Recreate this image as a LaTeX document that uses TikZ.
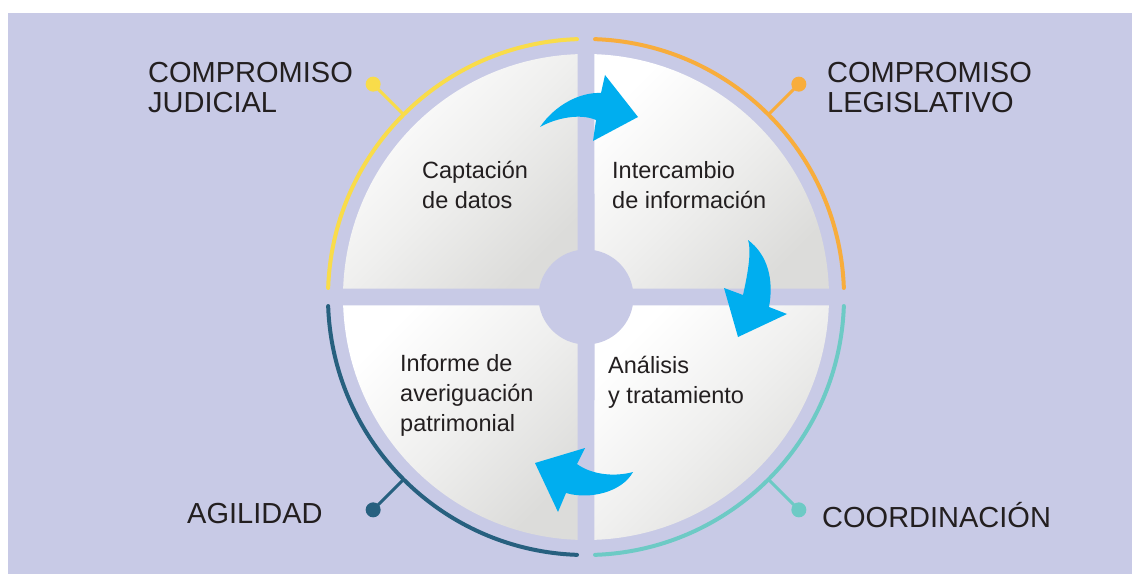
\documentclass[tikz,border=0pt]{standalone}
\usepackage{fontspec}
\setmainfont{Liberation Sans}
\definecolor{bg}{HTML}{C8CAE6}
\definecolor{cyellow}{HTML}{F9DC4A}
\definecolor{corange}{HTML}{F8AD3C}
\definecolor{cteal}{HTML}{6DCAC5}
\definecolor{cnavy}{HTML}{27607F}
\definecolor{cblue}{HTML}{00AEEF}
\definecolor{qgray}{HTML}{DCDCDA}
\definecolor{ink}{HTML}{231F20}
\tikzset{
  quad/.style={top color=white, bottom color=qgray, middle color=qgray!45, shading angle=45},
  ring/.style={line width=4pt, line cap=round},
  pinline/.style={line width=3pt},
  pindot/.style={circle, inner sep=0pt, minimum size=15pt},
  bigarrow/.style={fill=cblue},
  biglabel/.style={anchor=base west, align=left, text=ink, inner sep=0pt,
    font=\fontsize{29}{30}\selectfont},
  steplabel/.style={anchor=base west, align=left, text=ink, inner sep=0pt,
    font=\fontsize{23.5}{30}\selectfont}
}
\begin{document}
\begin{tikzpicture}[x=1pt,y=1pt]
\useasboundingbox (0,0) rectangle (1132,574);
\fill[bg] (8,0) rectangle (1132,561);
\begin{scope}[shift={(586,277)}]
  % quadrants
  \shade[quad] (-8.5,8.5) -- (92:243) arc[start angle=92, end angle=178, radius=243] -- cycle;
  \shade[quad] (8.5,8.5) -- (2:243) arc[start angle=2, end angle=88, radius=243] -- cycle;
  \shade[quad] (8.5,-8.5) -- (-88:243) arc[start angle=-88, end angle=-2, radius=243] -- cycle;
  \shade[quad] (-8.5,-8.5) -- (182:243) arc[start angle=182, end angle=268, radius=243] -- cycle;
  \node[circle, fill=bg, minimum size=95pt, inner sep=0pt] (hub) at (0,0) {};
  % outer rings
  \draw[ring, cyellow] (92:258) arc[start angle=92, end angle=178, radius=258];
  \draw[ring, corange] (2:258) arc[start angle=2, end angle=88, radius=258];
  \draw[ring, cteal] (-88:258) arc[start angle=-88, end angle=-2, radius=258];
  \draw[ring, cnavy] (182:258) arc[start angle=182, end angle=268, radius=258];
  % pins
  \coordinate (aj) at (135:258);
  \node[pindot, fill=cyellow] (pj) at (135:301) {};
  \draw[pinline, cyellow] (aj) -- (pj.center);
  \coordinate (al) at (45:258);
  \node[pindot, fill=corange] (pl) at (45:301) {};
  \draw[pinline, corange] (al) -- (pl.center);
  \coordinate (ac) at (-45:258);
  \node[pindot, fill=cteal] (pc) at (-45:301) {};
  \draw[pinline, cteal] (ac) -- (pc.center);
  \coordinate (aa) at (-135:258);
  \node[pindot, fill=cnavy] (pa) at (-135:301) {};
  \draw[pinline, cnavy] (aa) -- (pa.center);
  % arrows
  \fill[bigarrow] (-46,170) .. controls (-31,192) and (-6,205) .. (15,204)
     -- (19,222) -- (52,180) -- (7,156) -- (10,177)
     .. controls (-6,184) and (-30,179) .. (-46,170) -- cycle;
  \fill[bigarrow] (162,57) .. controls (182,42) and (188,17) .. (183,-10)
     -- (201,-17) -- (152,-40) -- (138,9) -- (157,2)
     .. controls (161,20) and (166,45) .. (162,57) -- cycle;
  \fill[bigarrow] (47,-175) .. controls (29,-180) and (6,-178) .. (-9,-167)
     -- (-1,-151) -- (-51,-166) -- (-28,-215) -- (-20,-196)
     .. controls (4,-203) and (36,-195) .. (47,-175) -- cycle;
\end{scope}
% outer labels (base anchor = last line)
\node[biglabel] (lj) at (148,461) {COMPROMISO\\JUDICIAL};
\node[biglabel] (ll) at (827,461) {COMPROMISO\\LEGISLATIVO};
\node[biglabel] (la) at (187,51) {AGILIDAD};
\node[biglabel] (lc) at (822,47) {COORDINACIÓN};
% step labels
\node[steplabel] (s1) at (422,365) {Captación\\de datos};
\node[steplabel] (s2) at (612,365) {Intercambio\\de información};
\node[steplabel] (s3) at (608,171) {Análisis\\y tratamiento};
\node[steplabel] (s4) at (400,143) {Informe de\\averiguación\\patrimonial};
\end{tikzpicture}
\end{document}
